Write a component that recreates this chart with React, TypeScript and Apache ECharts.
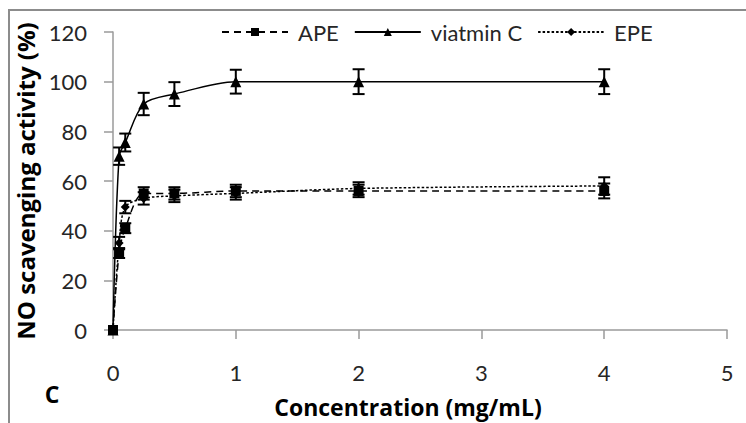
import React, { useEffect, useRef } from "react";
import * as echarts from "echarts";

const concentrations = [0, 0.05, 0.1, 0.25, 0.5, 1, 2, 4];
const apeValues = [0, 31, 41, 55, 55, 56, 56, 56];
const apeErrors = [0, 2, 2, 2.5, 2.5, 2.5, 2.5, 3];
const vitcValues = [0, 70, 75.5, 91, 95, 100, 100, 100];
const vitcErrors = [0, 3.5, 3.6, 4.5, 4.8, 4.8, 5, 5];
const epeValues = [0, 35, 49.5, 53, 54, 55, 57, 58];
const epeErrors = [0, 2.5, 2.5, 2.5, 2.5, 2.5, 2.5, 3.5];
const yTicks = [0, 20, 40, 60, 80, 100, 120];
const xTicks = [0, 1, 2, 3, 4, 5];

const FONT = "Lato, 'Open Sans', sans-serif";
const TITLE_FONT = "'Open Sans', sans-serif";

function pairs(vals: number[]) {
  return concentrations.map((c, i) => [c, vals[i]]);
}

function errData(vals: number[], errs: number[]) {
  return concentrations.map((c, i) => [c, vals[i] - errs[i], vals[i] + errs[i]]);
}

function errSeries(vals: number[], errs: number[]) {
  return {
    type: "custom",
    silent: true,
    z: 5,
    data: errData(vals, errs),
    renderItem: (params: any, api: any) => {
      const x = api.value(0);
      const lo = api.value(1);
      const hi = api.value(2);
      if (hi - lo <= 0) return null;
      const p1 = api.coord([x, lo]);
      const p2 = api.coord([x, hi]);
      const w = 6;
      const style = { stroke: "#000", lineWidth: 2 };
      return {
        type: "group",
        children: [
          { type: "line", shape: { x1: p1[0], y1: p1[1], x2: p2[0], y2: p2[1] }, style },
          { type: "line", shape: { x1: p1[0] - w, y1: p1[1], x2: p1[0] + w, y2: p1[1] }, style },
          { type: "line", shape: { x1: p2[0] - w, y1: p2[1], x2: p2[0] + w, y2: p2[1] }, style },
        ],
      };
    },
  };
}

export default function App() {
  const ref = useRef<HTMLDivElement>(null);
  useEffect(() => {
    document.body.style.margin = "0";
    const chart = echarts.init(ref.current!, null, { renderer: "svg" });
    chart.setOption({
      animation: false,
      backgroundColor: "#fff",
      grid: { left: 113, right: 19, top: 32, bottom: 93, containLabel: false, outerBoundsMode: "none" } as any,
      legend: {
        data: ["APE", "viatmin C", "EPE"],
        left: 216,
        top: 16,
        itemWidth: 66,
        itemHeight: 10,
        itemGap: 15,
        textStyle: { fontFamily: FONT, fontSize: 22, color: "#262626", padding: [0, 0, 0, 5] },
      },
      xAxis: {
        type: "value",
        min: 0,
        max: 5,
        interval: 1,
        name: "Concentration (mg/mL)",
        nameLocation: "middle",
        nameGap: 65,
        nameTextStyle: { fontFamily: TITLE_FONT, fontSize: 23, fontWeight: "bold", color: "#000", padding: [0, 24, 0, 0] },
        axisLine: { show: true, lineStyle: { color: "#9a9a9a", width: 1.5 } },
        axisTick: { show: true, inside: false, length: 9, lineStyle: { color: "#9a9a9a", width: 1.5 } },
        axisLabel: { margin: 31, fontFamily: FONT, fontSize: 22, color: "#262626", customValues: xTicks } as any,
        splitLine: { show: false },
      },
      yAxis: {
        type: "value",
        min: 0,
        max: 120,
        interval: 20,
        name: "NO scavenging activity (%)",
        nameLocation: "middle",
        nameGap: 68,
        nameRotate: 90,
        nameTextStyle: { fontFamily: TITLE_FONT, fontSize: 24, fontWeight: "bold", color: "#000" },
        axisLine: { show: true, lineStyle: { color: "#9a9a9a", width: 1.5 } },
        axisTick: { show: true, inside: false, length: 9, lineStyle: { color: "#9a9a9a", width: 1.5 } },
        axisLabel: { margin: 26, fontFamily: FONT, fontSize: 22, color: "#262626", customValues: yTicks } as any,
        splitLine: { show: false },
      },
      graphic: [
        {
          type: "rect",
          shape: { x: 9, y: 10, width: 760, height: 430 },
          style: { fill: "none", stroke: "#8c8c8c", lineWidth: 2 },
          silent: true,
        },
        {
          type: "text",
          x: 52,
          y: 394,
          style: { text: "C", fontFamily: TITLE_FONT, fontSize: 23, fontWeight: "bold", fill: "#000", textAlign: "center", textVerticalAlign: "middle" },
        },
      ],
      series: [
        {
          name: "APE",
          type: "line",
          data: pairs(apeValues),
          smooth: 0.3,
          symbol: "rect",
          symbolSize: 10,
          itemStyle: { color: "#000" },
          lineStyle: { color: "#000", width: 1.5, type: [7, 5] },
          z: 3,
        },
        {
          name: "viatmin C",
          type: "line",
          data: pairs(vitcValues),
          smooth: 0.3,
          symbol: "triangle",
          symbolSize: 11,
          itemStyle: { color: "#000" },
          lineStyle: { color: "#000", width: 1.5, type: "solid" },
          z: 3,
        },
        {
          name: "EPE",
          type: "line",
          data: pairs(epeValues),
          smooth: 0.3,
          symbol: "diamond",
          symbolSize: 9,
          itemStyle: { color: "#000" },
          lineStyle: { color: "#000", width: 1.5, type: [2.5, 2] },
          z: 3,
        },
        errSeries(apeValues, apeErrors),
        errSeries(vitcValues, vitcErrors),
        errSeries(epeValues, epeErrors),
      ],
    });
    return () => chart.dispose();
  }, []);
  return <div ref={ref} style={{ width: 746, height: 423 }} />;
}
